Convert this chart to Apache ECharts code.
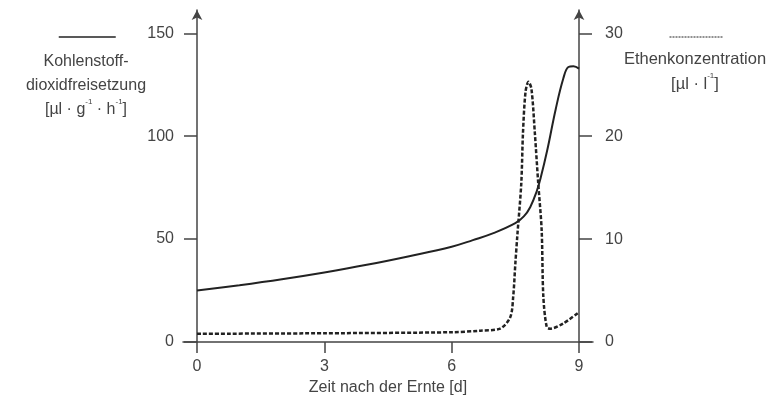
<!DOCTYPE html>
<html>
<head>
<meta charset="utf-8">
<script src="https://cdn.jsdelivr.net/npm/echarts@6/dist/echarts.min.js"></script>
<style>html,body{margin:0;padding:0;background:#fff;}#c{width:773px;height:405px;}</style>
</head>
<body>
<div id="c"></div>
<script>
// Data
const xTicks = [0, 3, 6, 9];
const leftTicks = [0, 50, 100, 150];
const rightTicks = [0, 10, 20, 30];
const co2Days = [0, 1, 2, 3, 4, 5, 6, 6.5, 7, 7.5, 7.7, 7.85, 8.0, 8.1, 8.25, 8.45, 8.63, 8.75, 8.87, 9];
const co2Vals = [25, 27.6, 30.5, 33.8, 37.5, 41.7, 46.3, 49.5, 53, 57.7, 61, 65.5, 73, 80, 93, 113, 128, 133.6, 134, 132.8];
const ethDays = [0, 3, 6, 6.67, 7.14, 7.38, 7.45, 7.5, 7.55, 7.64, 7.68, 7.74, 7.81, 7.88, 7.96, 8.04, 8.12, 8.16, 8.24, 8.32, 8.63, 9];
const ethVals = [0.8, 0.85, 0.95, 1.1, 1.3, 2.4, 4.4, 7.6, 10.5, 15.4, 20.3, 24.3, 25.3, 24.6, 20.3, 15.4, 10.9, 4.4, 1.45, 1.3, 1.8, 2.9];

const co2Data = co2Days.map((d, i) => [d, co2Vals[i]]);
const ethData = ethDays.map((d, i) => [d, ethVals[i]]);

const FONT = 'Liberation Sans, Arial, sans-serif';
const TXT = '#444';
const AX = '#444';

const chart = echarts.init(document.getElementById('c'), null, {renderer: 'canvas'});
chart.setOption({
  animation: false,
  backgroundColor: '#fff',
  textStyle: {fontFamily: FONT},
  grid: {left: 183, right: 180, top: 10, bottom: 63},
  legend: [
    {data: ['CO2'], left: 53, top: 25, itemWidth: 57, itemHeight: 14, selectedMode: false,
     formatter: function () { return ''; }, lineStyle: {width: 1.5}, itemStyle: {opacity: 0}},
    {data: ['Ethen'], left: 664, top: 25, itemWidth: 54, itemHeight: 14, selectedMode: false,
     formatter: function () { return ''; }, lineStyle: {width: 1, type: [2, 1]}, itemStyle: {opacity: 0}}
  ],
  xAxis: {
    type: 'value', min: -0.33, max: 9.33,
    name: 'Zeit nach der Ernte [d]', nameLocation: 'middle', nameGap: 36,
    nameTextStyle: {fontSize: 16, color: TXT, fontFamily: FONT},
    axisLine: {onZero: false, lineStyle: {color: AX, width: 1.5}},
    axisTick: {customValues: xTicks, length: 11, lineStyle: {color: AX, width: 1.5}},
    axisLabel: {customValues: xTicks, margin: 17, fontSize: 16, color: TXT, fontFamily: FONT},
    splitLine: {show: false}
  },
  yAxis: [
    {
      type: 'value', min: 0, max: 161.3, position: 'left', offset: -14,
      axisLine: {show: true, onZero: false, symbol: ['none', 'arrow'], symbolSize: [8, 10], lineStyle: {color: AX, width: 1.5}},
      axisTick: {show: true, customValues: leftTicks, length: 13, lineStyle: {color: AX, width: 1.5}},
      axisLabel: {customValues: leftTicks, margin: 23, fontSize: 16, color: TXT, fontFamily: FONT},
      splitLine: {show: false}
    },
    {
      type: 'value', min: 0, max: 32.27, position: 'right', offset: -14,
      axisLine: {show: true, onZero: false, symbol: ['none', 'arrow'], symbolSize: [8, 10], lineStyle: {color: AX, width: 1.5}},
      axisTick: {show: true, customValues: rightTicks, length: 13, lineStyle: {color: AX, width: 1.5}},
      axisLabel: {customValues: rightTicks, margin: 26, fontSize: 16, color: TXT, fontFamily: FONT},
      splitLine: {show: false}
    }
  ],
  graphic: [
    {type: 'text', x: 86, y: 50, style: {
      text: 'Kohlenstoff-\ndioxidfreisetzung\n[µl · g{s|-1} · h{s|-1}]',
      align: 'center', verticalAlign: 'top', fill: TXT, font: '16px ' + FONT, lineHeight: 24,
      rich: {s: {fontSize: 8, fill: TXT, verticalAlign: 'top', lineHeight: 24, padding: [0, 0, 6, 0]}}
    }},
    {type: 'text', x: 695, y: 47, style: {
      text: 'Ethenkonzentration\n[µl · l{s|-1}]',
      align: 'center', verticalAlign: 'top', fill: TXT, font: '16.5px ' + FONT, lineHeight: 25,
      rich: {s: {fontSize: 8, fill: TXT, verticalAlign: 'top', lineHeight: 25, padding: [0, 0, 6, 0]}}
    }}
  ],
  series: [
    {name: 'CO2', type: 'line', yAxisIndex: 0, data: co2Data, symbol: 'none', smooth: 0.4,
     lineStyle: {color: '#222', width: 2}, itemStyle: {color: '#222'}},
    {name: 'Ethen', type: 'line', yAxisIndex: 1, data: ethData, symbol: 'none', smooth: 0.3,
     lineStyle: {color: '#222', width: 2.5, type: [4, 2]}, itemStyle: {color: '#222'}}
  ]
});
</script>
</body>
</html>
